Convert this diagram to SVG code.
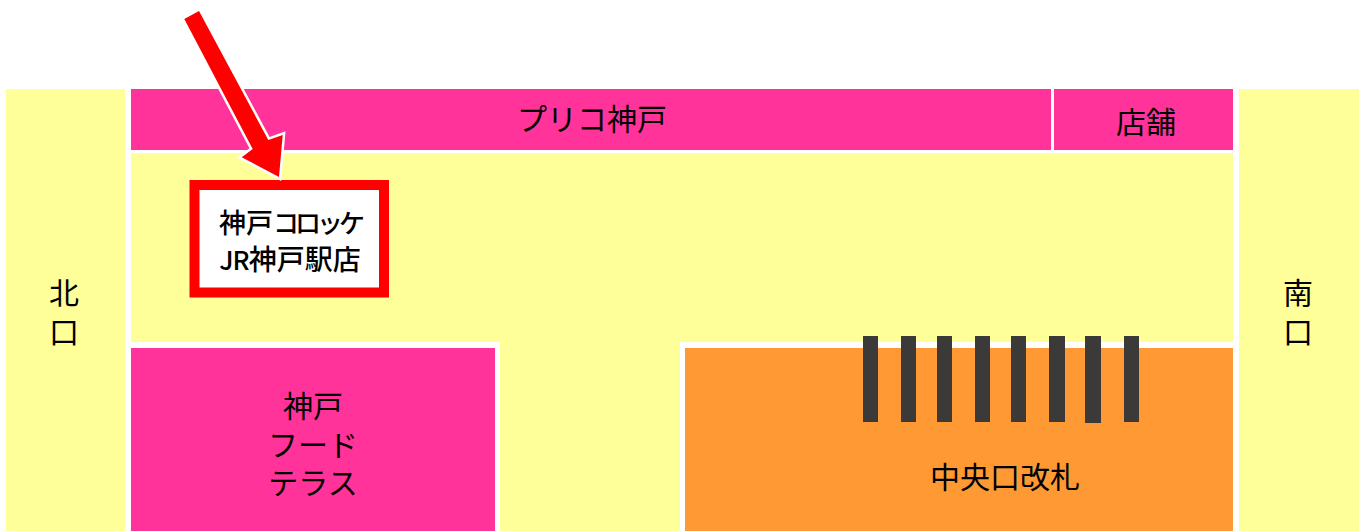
<svg xmlns="http://www.w3.org/2000/svg" width="1367" height="531" viewBox="0 0 1367 531">
<style>
.y{fill:#ffff99}.p{fill:#ff3399}.o{fill:#ff9933}.b{fill:#3c3a39}
text{font-family:"Noto Sans CJK JP","Liberation Sans",sans-serif;fill:#000;text-anchor:middle;font-size:30px}
.m{font-weight:500}
.s{font-size:28px}
.k{font-size:26px;letter-spacing:-4px}
</style>
<rect width="1367" height="531" fill="#fff"/>
<g id="north"><rect class="y" x="6" y="89" width="119" height="442"/><text x="64" y="304">北<tspan x="64" y="343">口</tspan></text></g>
<g id="south"><rect class="y" x="1239" y="89" width="120" height="442"/><text x="1298" y="304">南<tspan x="1298" y="343">口</tspan></text></g>
<g id="concourse"><path class="y" d="M131 153H1233V342H680V531H500V342H131Z"/></g>
<g id="piole"><rect class="p" x="131" y="89" width="920" height="61"/><text x="592" y="130">プリコ神戸</text></g>
<g id="shop"><rect class="p" x="1054" y="89" width="179" height="61"/><text x="1146" y="133">店舗</text></g>
<g id="foodterrace"><rect class="p" x="131" y="348" width="364" height="183"/><text x="313" y="417">神戸<tspan x="313" y="456">フード</tspan><tspan x="313" y="494">テラス</tspan></text></g>
<g id="gate"><rect class="o" x="685" y="348" width="548" height="183"/><text x="1005" y="488">中央口改札</text>
<g class="b"><rect x="863" y="336" width="15" height="86"/><rect x="901" y="336" width="15" height="86"/><rect x="937" y="336" width="15" height="86"/><rect x="975" y="336" width="15" height="86"/><rect x="1011" y="336" width="15" height="86"/><rect x="1049" y="336" width="16" height="86"/><rect x="1085" y="336" width="16" height="87"/><rect x="1124" y="336" width="15" height="86"/></g></g>
<g id="croquette"><rect x="194.500" y="185" width="189.500" height="107.500" fill="#fff" stroke="#f00" stroke-width="10"/><text class="k m" x="290" y="233"><tspan font-size="27" letter-spacing="0">神戸</tspan>コロッケ<tspan class="s" x="290" y="270" letter-spacing="0"><tspan font-size="26" letter-spacing="-1">JR</tspan>神戸駅店</tspan></text></g>
<g id="connectors"><path d="M184.300 19L199 11L268.300 140L282.700 135L279 177L241.700 157.300L252.700 149Z" fill="#f00" stroke="#fff" stroke-width="5" stroke-linejoin="miter" paint-order="stroke"/></g>
</svg>
